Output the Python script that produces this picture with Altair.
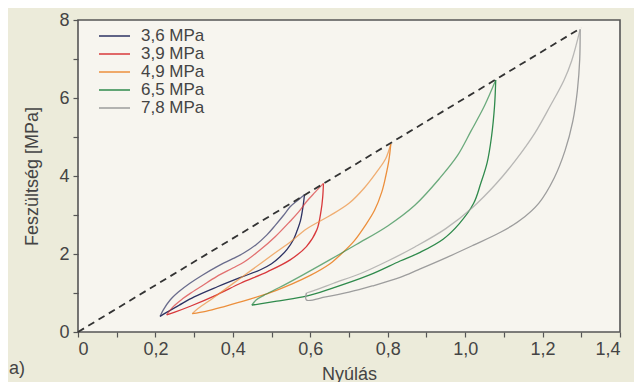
import altair as alt
import pandas as pd

# ---------------- data ----------------
series_names = ["3,6 MPa", "3,9 MPa", "4,9 MPa", "6,5 MPa", "7,8 MPa"]
series_colors = ["#2d3263", "#d8383b", "#ec8f3c", "#2f8a4c", "#9d9d9d"]

# 3,6 MPa loop
s1_up_x = [0.212, 0.22, 0.238, 0.26, 0.289, 0.32, 0.358, 0.40, 0.427, 0.46, 0.488, 0.51, 0.53, 0.548, 0.568, 0.585]
s1_up_y = [0.40, 0.56, 0.82, 1.03, 1.25, 1.45, 1.67, 1.88, 2.02, 2.24, 2.49, 2.74, 2.98, 3.21, 3.38, 3.52]
s1_lo_x = [0.585, 0.581, 0.575, 0.566, 0.556, 0.54, 0.522, 0.50, 0.47, 0.42, 0.36, 0.30, 0.26, 0.23, 0.212]
s1_lo_y = [3.52, 3.20, 2.87, 2.60, 2.36, 2.12, 1.93, 1.75, 1.59, 1.40, 1.16, 0.90, 0.68, 0.51, 0.40]

# 3,9 MPa loop
s2_up_x = [0.229, 0.246, 0.27, 0.29, 0.32, 0.358, 0.40, 0.43, 0.47, 0.51, 0.548, 0.57, 0.59, 0.612, 0.634]
s2_up_y = [0.44, 0.65, 0.85, 0.99, 1.18, 1.42, 1.64, 1.80, 2.10, 2.45, 2.84, 3.08, 3.34, 3.58, 3.81]
s2_lo_x = [0.634, 0.632, 0.628, 0.617, 0.59, 0.548, 0.49, 0.42, 0.36, 0.29, 0.25, 0.229]
s2_lo_y = [3.81, 3.45, 3.12, 2.62, 2.19, 1.85, 1.55, 1.25, 0.96, 0.66, 0.51, 0.44]

# 4,9 MPa loop
s3_up_x = [0.295, 0.31, 0.35, 0.40, 0.45, 0.505, 0.55, 0.59, 0.65, 0.70, 0.74, 0.775, 0.795, 0.808]
s3_up_y = [0.47, 0.60, 0.88, 1.24, 1.60, 2.00, 2.32, 2.64, 2.98, 3.30, 3.70, 4.15, 4.45, 4.82]
s3_lo_x = [0.808, 0.803, 0.795, 0.785, 0.766, 0.74, 0.713, 0.68, 0.651, 0.60, 0.55, 0.50, 0.44, 0.38, 0.33, 0.295]
s3_lo_y = [4.82, 4.40, 4.00, 3.60, 3.12, 2.70, 2.33, 2.00, 1.75, 1.45, 1.22, 1.02, 0.83, 0.66, 0.53, 0.47]

# 6,5 MPa loop
s4_up_x = [0.449, 0.46, 0.48, 0.52, 0.58, 0.65, 0.72, 0.80, 0.87, 0.935, 0.98, 1.015, 1.05, 1.079]
s4_up_y = [0.69, 0.82, 0.94, 1.14, 1.46, 1.85, 2.25, 2.72, 3.25, 3.95, 4.52, 5.15, 5.80, 6.46]
s4_lo_x = [1.079, 1.076, 1.068, 1.057, 1.04, 1.022, 0.985, 0.943, 0.885, 0.832, 0.75, 0.65, 0.59, 0.52, 0.47, 0.449]
s4_lo_y = [6.46, 5.80, 5.00, 4.35, 3.80, 3.30, 2.78, 2.38, 2.05, 1.82, 1.45, 1.10, 0.92, 0.80, 0.72, 0.69]

# 7,8 MPa loop
s5_up_x = [0.59, 0.62, 0.66, 0.73, 0.80, 0.87, 0.95, 1.02, 1.08, 1.13, 1.18, 1.22, 1.255, 1.275, 1.297]
s5_up_y = [1.00, 1.10, 1.25, 1.50, 1.82, 2.18, 2.65, 3.20, 3.80, 4.40, 5.10, 5.80, 6.45, 6.95, 7.76]
s5_lo_x = [1.297, 1.296, 1.29, 1.278, 1.258, 1.23, 1.19, 1.14, 1.09, 1.02, 0.95, 0.88, 0.832, 0.76, 0.70, 0.64, 0.59, 0.59]
s5_lo_y = [7.76, 7.00, 6.20, 5.40, 4.65, 3.95, 3.30, 2.85, 2.55, 2.22, 1.90, 1.60, 1.40, 1.18, 1.02, 0.90, 0.82, 1.00]

# dashed envelope line through the peaks
diag_x = [0.0, 1.3]
diag_y = [0.0, 7.8]

x_tick_values = [0.0, 0.1, 0.2, 0.3, 0.4, 0.5, 0.6, 0.7, 0.8, 0.9, 1.0, 1.1, 1.2, 1.3, 1.4]
y_tick_values = [0, 1, 2, 3, 4, 5, 6, 7, 8]

# ---------------- build tables ----------------
branches = [
    (series_names[0], s1_up_x, s1_up_y, s1_lo_x, s1_lo_y),
    (series_names[1], s2_up_x, s2_up_y, s2_lo_x, s2_lo_y),
    (series_names[2], s3_up_x, s3_up_y, s3_lo_x, s3_lo_y),
    (series_names[3], s4_up_x, s4_up_y, s4_lo_x, s4_lo_y),
    (series_names[4], s5_up_x, s5_up_y, s5_lo_x, s5_lo_y),
]
rows = []
for name, ux, uy, lx, ly in branches:
    for i, (a, b) in enumerate(zip(ux, uy)):
        rows.append({"series": name, "part": "up", "seg": name + "up", "i": i, "x": a, "y": b})
    for i, (a, b) in enumerate(zip(lx, ly)):
        rows.append({"series": name, "part": "lo", "seg": name + "lo", "i": i, "x": a, "y": b})
loops_df = pd.DataFrame(rows)
diag_df = pd.DataFrame({"x": diag_x, "y": diag_y})
legend_df = pd.DataFrame({"series": series_names, "row": list(range(len(series_names)))})

W, H = 542, 312
FONT = "Liberation Sans"
TXT = "#444444"

color_scale = alt.Scale(domain=series_names, range=series_colors)
x_scale = alt.Scale(domain=[0, 1.4], nice=False, zero=False)
y_scale = alt.Scale(domain=[0, 8], nice=False, zero=False)

x_axis = alt.Axis(
    values=x_tick_values,
    labelExpr="(round(datum.value*10) % 2 == 0) ? (datum.value == 0 ? '0' : replace(format(datum.value, '.1f'), '.', ',')) : ''",
    title="Nyúlás", titlePadding=7, labelPadding=3,
)
y_axis = alt.Axis(
    values=y_tick_values,
    labelExpr="(datum.value % 2 == 0) ? datum.label : ''",
    title="Feszültség [MPa]", titlePadding=17, labelPadding=4,
)

diag = alt.Chart(diag_df).mark_line(
    strokeDash=[7, 5], strokeWidth=1.8, color="#333333"
).encode(
    x=alt.X("x:Q", scale=x_scale, axis=x_axis),
    y=alt.Y("y:Q", scale=y_scale, axis=y_axis),
)

loops = alt.Chart(loops_df).mark_line(strokeWidth=1.3, interpolate="catmull-rom").encode(
    x=alt.X("x:Q", scale=x_scale, axis=x_axis),
    y=alt.Y("y:Q", scale=y_scale, axis=y_axis),
    color=alt.Color("series:N", scale=color_scale, legend=None),
    detail="seg:N",
    order="i:Q",
    opacity=alt.Opacity("part:N", scale=alt.Scale(domain=["up", "lo"], range=[0.7, 1.0]), legend=None),
)

main = alt.layer(loops, diag)

leg_y = alt.Y("row:Q", scale=alt.Scale(domain=[0, 4], range=[16, 16 + 4 * 18]), axis=None)
leg_lines = alt.Chart(legend_df).mark_rule(strokeWidth=1.5).encode(
    x=alt.value(21), x2=alt.value(52), y=leg_y,
    color=alt.Color("series:N", scale=color_scale, legend=None),
)
leg_text = alt.Chart(legend_df).mark_text(
    align="left", baseline="middle", font=FONT, fontSize=17, color=TXT, dx=0
).encode(x=alt.value(63), y=leg_y, text="series:N")

tag = alt.Chart(pd.DataFrame({"t": ["a)"]})).mark_text(
    align="left", baseline="middle", font=FONT, fontSize=18, color=TXT
).encode(x=alt.value(-69), y=alt.value(349), text="t:N")

chart = alt.layer(main, leg_lines, leg_text, tag).resolve_scale(
    y="independent"
).properties(
    width=W, height=H,
    padding={"left": 70, "top": 12, "right": 14, "bottom": 50},
    autosize=alt.AutoSizeParams(type="none"),
    background="#ecebda",
).configure_view(
    fill="#f7f5ef", stroke="#555555", strokeWidth=1.6
).configure_axis(
    domain=False, grid=False, ticks=True, tickColor="#555555", tickSize=5, tickWidth=1.2,
    labelFont=FONT, labelFontSize=18, labelColor=TXT,
    titleFont=FONT, titleFontSize=18, titleFontWeight="normal", titleColor=TXT,
)

chart.save("out.html", embed_options={"renderer": "svg", "actions": False})
